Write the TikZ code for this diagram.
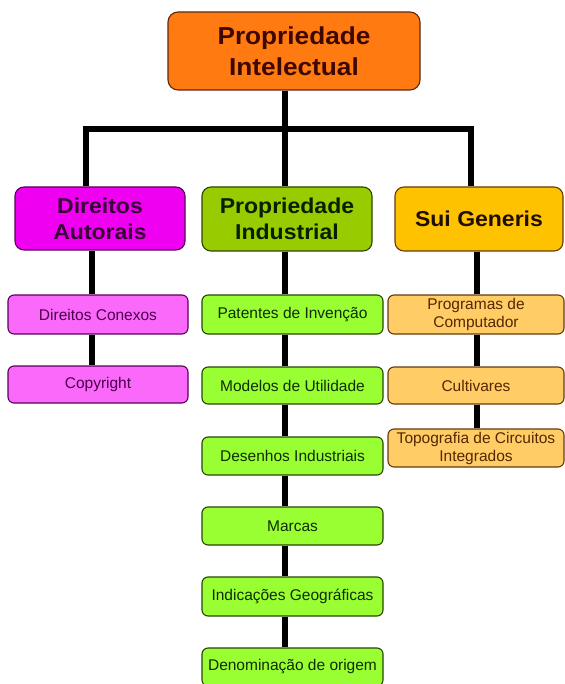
\documentclass[tikz,border=0pt]{standalone}
\usepackage{fontspec}
\setmainfont{Liberation Sans}
\newfontfamily\hdr[FakeStretch=1.07]{Liberation Sans}
\definecolor{topfill}{RGB}{255,122,16}
\definecolor{topline}{RGB}{95,40,10}
\definecolor{toptext}{RGB}{60,8,0}
\definecolor{pinkH}{RGB}{240,0,240}
\definecolor{pinkL}{RGB}{250,105,250}
\definecolor{pinkline}{RGB}{90,0,90}
\definecolor{pinkHtext}{RGB}{55,0,55}
\definecolor{pinktext}{RGB}{75,0,75}
\definecolor{greenH}{RGB}{153,204,0}
\definecolor{greenL}{RGB}{153,255,51}
\definecolor{greenline}{RGB}{40,70,0}
\definecolor{greenHtext}{RGB}{10,30,0}
\definecolor{greentext}{RGB}{15,45,0}
\definecolor{goldH}{RGB}{255,194,0}
\definecolor{goldL}{RGB}{255,204,102}
\definecolor{goldline}{RGB}{100,60,10}
\definecolor{goldHtext}{RGB}{30,15,0}
\definecolor{goldtext}{RGB}{85,40,0}
\tikzset{
  box/.style={draw, line width=1.1pt, inner sep=0pt, align=center},
  head/.style={box, rounded corners=9pt, font=\hdr\bfseries\fontsize{21.5}{26}\selectfont},
  leaf/.style={box, rounded corners=6pt, font=\fontsize{15.5}{18}\selectfont},
  conn/.style={line width=6.5pt, black, line join=miter}
}
\begin{document}
\begin{tikzpicture}[x=1pt,y=-1pt]
\useasboundingbox[fill=white] (0,0) rectangle (564,684);
% coordinates for connector columns
\coordinate (bar) at (0,129);
\coordinate (la) at (86,0);
\coordinate (lb) at (92,0);
\coordinate (mx) at (285,0);
\coordinate (ra) at (471,0);
\coordinate (rb) at (477,0);
% nodes
\node[box, rounded corners=10pt, fill=topfill, draw=topline, text=toptext,
  minimum width=252pt, minimum height=78pt,
  font=\hdr\bfseries\fontsize{24.5}{31}\selectfont] (top) at (294,51) {Propriedade\\Intelectual};
\node[head, fill=pinkH, draw=pinkline, text=pinkHtext, minimum width=170pt, minimum height=63pt] (da) at (100,218.5) {Direitos\\Autorais};
\node[head, fill=greenH, draw=greenline, text=greenHtext, minimum width=170pt, minimum height=64pt] (pind) at (287,219) {Propriedade\\Industrial};
\node[head, fill=goldH, draw=goldline, text=goldHtext, minimum width=168pt, minimum height=64pt] (sg) at (479,219) {Sui Generis};
% pink leaves
\node[leaf, fill=pinkL, draw=pinkline, text=pinktext, minimum width=180pt, minimum height=39pt] (dc) at (98,314.5) {Direitos Conexos};
\node[leaf, fill=pinkL, draw=pinkline, text=pinktext, minimum width=180pt, minimum height=37pt] (cp) at (98,384.5) {Copyright};
% green leaves
\node[leaf, fill=greenL, draw=greenline, text=greentext, minimum width=181pt, minimum height=39pt] (pat) at (292.5,314.5) {Patentes de Invenção};
\node[leaf, fill=greenL, draw=greenline, text=greentext, minimum width=181pt, minimum height=37pt] (mod) at (292.5,385.5) {Modelos de Utilidade};
\node[leaf, fill=greenL, draw=greenline, text=greentext, minimum width=181pt, minimum height=38pt] (des) at (292.5,456) {Desenhos Industriais};
\node[leaf, fill=greenL, draw=greenline, text=greentext, minimum width=181pt, minimum height=38pt] (mar) at (292.5,526) {Marcas};
\node[leaf, fill=greenL, draw=greenline, text=greentext, minimum width=181pt, minimum height=39pt] (ind) at (292.5,596.5) {Indicações Geográficas};
\node[leaf, fill=greenL, draw=greenline, text=greentext, minimum width=181pt, minimum height=38pt] (den) at (292.5,667) {Denominação de origem};
% gold leaves
\node[leaf, fill=goldL, draw=goldline, text=goldtext, minimum width=176pt, minimum height=39pt] (prog) at (476,314.5) {Programas de\\Computador};
\node[leaf, fill=goldL, draw=goldline, text=goldtext, minimum width=176pt, minimum height=37pt] (cult) at (476,385.5) {Cultivares};
\node[leaf, fill=goldL, draw=goldline, text=goldtext, minimum width=176pt, minimum height=38pt] (topo) at (476,448) {Topografia de Circuitos\\Integrados};
% connectors
\draw[conn] (top.south -| mx) -- (mx |- bar);
\draw[conn] (da.north -| la) -- (la |- bar) -- (ra |- bar) -- (sg.north -| ra);
\draw[conn] (mx |- bar) -- (pind.north -| mx);
\draw[conn] (da.south -| lb) -- (dc.north -| lb);
\draw[conn] (dc.south -| lb) -- (cp.north -| lb);
\draw[conn] (pind.south -| mx) -- (pat.north -| mx);
\draw[conn] (pat.south -| mx) -- (mod.north -| mx);
\draw[conn] (mod.south -| mx) -- (des.north -| mx);
\draw[conn] (des.south -| mx) -- (mar.north -| mx);
\draw[conn] (mar.south -| mx) -- (ind.north -| mx);
\draw[conn] (ind.south -| mx) -- (den.north -| mx);
\draw[conn] (sg.south -| rb) -- (prog.north -| rb);
\draw[conn] (prog.south -| rb) -- (cult.north -| rb);
\draw[conn] (cult.south -| rb) -- (topo.north -| rb);
\end{tikzpicture}
\end{document}
